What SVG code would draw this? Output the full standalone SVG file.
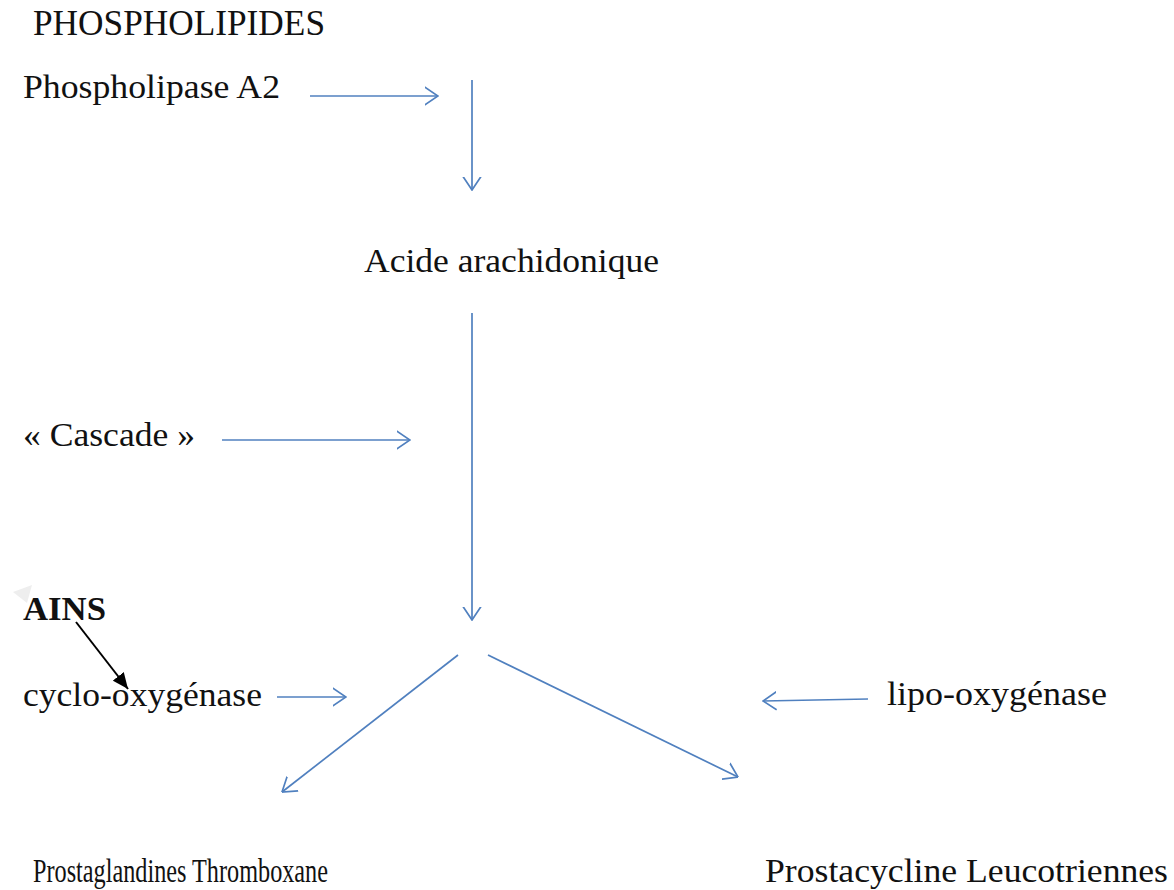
<svg xmlns="http://www.w3.org/2000/svg" width="1174" height="890" viewBox="0 0 1174 890">
<style>
  text { font-family: "Liberation Serif", "Times New Roman", serif; fill: #111; font-size: 34px; }
  .b { font-weight: bold; }
  .h { font-size: 35px; }
  .s { font-size: 33px; }
  .c { fill: none; stroke: #5080bf; stroke-width: 1.7; marker-end: url(#open); }
  .k { fill: none; stroke: #000; stroke-width: 2; marker-end: url(#solid); }
</style>
<defs>
  <marker id="open" viewBox="0 0 14 20" refX="13.5" refY="10" markerWidth="14" markerHeight="20" markerUnits="userSpaceOnUse" orient="auto">
    <path d="M0,1 L13.5,10 L0,19" fill="none" stroke="#5080bf" stroke-width="1.7"/>
  </marker>
  <marker id="solid" viewBox="0 0 16 14" refX="16" refY="7" markerWidth="16" markerHeight="14" markerUnits="userSpaceOnUse" orient="auto">
    <path d="M0,0 L16,7 L0,14 Z" fill="#000"/>
  </marker>
</defs>
<rect width="1174" height="890" fill="#fff"/>
<polygon points="13,592 32,585 27,603" fill="#eeeeee"/>
<g id="phospholipides"><text class="h" x="33" y="35" textLength="292" lengthAdjust="spacingAndGlyphs">PHOSPHOLIPIDES</text></g>
<g id="phospholipase"><text x="23" y="98" textLength="257" lengthAdjust="spacingAndGlyphs">Phospholipase A2</text></g>
<g id="acide"><text x="364" y="272" textLength="295" lengthAdjust="spacingAndGlyphs">Acide arachidonique</text></g>
<g id="cascade"><text x="23" y="446" textLength="172" lengthAdjust="spacingAndGlyphs">« Cascade »</text></g>
<g id="ains"><text class="b" x="23" y="620" textLength="83" lengthAdjust="spacingAndGlyphs">AINS</text></g>
<g id="cyclo"><text x="23" y="706" textLength="239" lengthAdjust="spacingAndGlyphs">cyclo-oxygénase</text></g>
<g id="lipo"><text x="887" y="705" textLength="220" lengthAdjust="spacingAndGlyphs">lipo-oxygénase</text></g>
<g id="prostaglandines"><text class="s" x="33" y="882" textLength="295" lengthAdjust="spacingAndGlyphs">Prostaglandines Thromboxane</text></g>
<g id="prostacycline"><text x="765" y="882" textLength="403" lengthAdjust="spacingAndGlyphs">Prostacycline Leucotriennes</text></g>
<g id="connectors">
  <line class="c" x1="310" y1="96" x2="438" y2="96"/>
  <line class="c" x1="472" y1="80" x2="472" y2="190"/>
  <line class="c" x1="472" y1="313" x2="472" y2="620"/>
  <line class="c" x1="222" y1="440" x2="410" y2="440"/>
  <line class="c" x1="277" y1="697" x2="346" y2="697"/>
  <line class="c" x1="458" y1="655" x2="282" y2="792"/>
  <line class="c" x1="488" y1="655" x2="738" y2="777"/>
  <line class="c" x1="868" y1="699" x2="763" y2="701"/>
  <line class="k" x1="76" y1="622" x2="128" y2="689"/>
</g>
</svg>
